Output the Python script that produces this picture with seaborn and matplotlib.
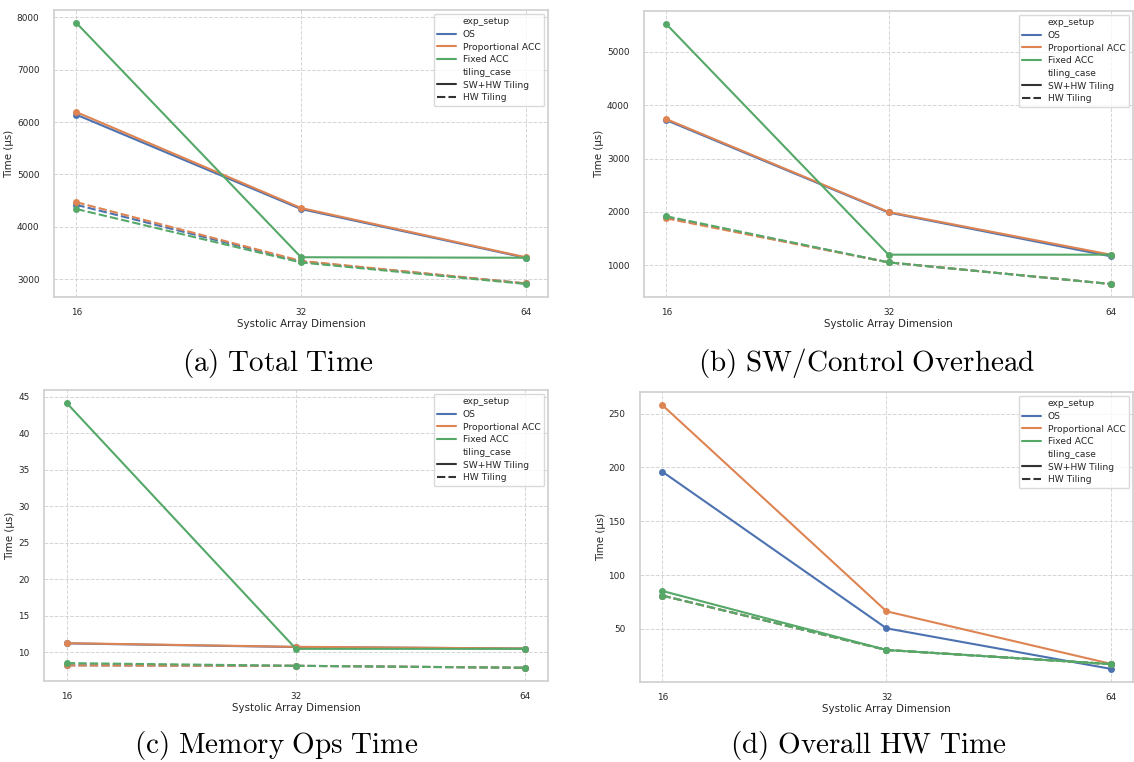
import matplotlib
matplotlib.use("Agg")
import matplotlib.pyplot as plt
import numpy as np
import pandas as pd
import seaborn as sns

# x values and series names
dims = [16, 32, 64]
setups = ["OS", "Proportional ACC", "Fixed ACC"]
tilings = ["SW+HW Tiling", "HW Tiling"]

# (a) Total Time
total_sw = {"OS": [6140, 4340, 3410], "Proportional ACC": [6190, 4360, 3420], "Fixed ACC": [7890, 3420, 3410]}
total_hw = {"OS": [4420, 3340, 2920], "Proportional ACC": [4470, 3350, 2920], "Fixed ACC": [4340, 3320, 2910]}

# (b) SW/Control Overhead
ctrl_sw = {"OS": [3720, 1990, 1170], "Proportional ACC": [3740, 2000, 1200], "Fixed ACC": [5520, 1200, 1200]}
ctrl_hw = {"OS": [1900, 1056, 651], "Proportional ACC": [1880, 1056, 651], "Fixed ACC": [1920, 1056, 651]}

# (c) Memory Ops Time
mem_sw = {"OS": [11.2, 10.7, 10.5], "Proportional ACC": [11.23, 10.73, 10.5], "Fixed ACC": [44.1, 10.45, 10.45]}
mem_hw = {"OS": [8.2, 8.13, 7.86], "Proportional ACC": [8.18, 8.13, 7.86], "Fixed ACC": [8.5, 8.13, 7.86]}

# (d) Overall HW Time
hw_sw = {"OS": [196, 50.6, 13], "Proportional ACC": [257.8, 66.4, 17.7], "Fixed ACC": [85.3, 30.5, 17.4]}
hw_hw = {"OS": [81, 30.5, 17.4], "Proportional ACC": [81, 30.5, 17.4], "Fixed ACC": [81, 30.5, 17.4]}

captions = ["(a) Total Time", "(b) SW/Control Overhead", "(c) Memory Ops Time", "(d) Overall HW Time"]


def make_df(sw, hw):
    rows = []
    for case, d in zip(tilings, [sw, hw]):
        for s in setups:
            for x, y in zip(dims, d[s]):
                rows.append({"dim": x, "time": y, "exp_setup": s, "tiling_case": case})
    return pd.DataFrame(rows)


sns.set_theme(style="whitegrid")
plt.rcParams["mathtext.fontset"] = "cm"

W, H = 1134, 762
fig = plt.figure(figsize=(W / 100, H / 100), dpi=100)

# axes boxes in pixels: left, right, top, bottom
boxes = [(54, 548, 10, 297), (644, 1133, 11, 297), (44, 548, 390, 681), (640, 1133, 392, 682)]
caption_pos = [(278, 363), (867, 363), (276, 745), (868, 745)]
data = [(total_sw, total_hw), (ctrl_sw, ctrl_hw), (mem_sw, mem_hw), (hw_sw, hw_hw)]

for (l, r, t, b), (sw, hw), cap, (cx, cy) in zip(boxes, data, captions, caption_pos):
    ax = fig.add_axes([l / W, 1 - b / H, (r - l) / W, (b - t) / H])
    df = make_df(sw, hw)
    sns.lineplot(data=df, x="dim", y="time", hue="exp_setup", style="tiling_case",
                 hue_order=setups, style_order=tilings, marker="o", markersize=5,
                 markeredgewidth=0, linewidth=1.5, ax=ax)
    ax.set_xscale("log", base=2)
    ax.set_xticks(dims)
    ax.set_xticklabels([str(d) for d in dims])
    ax.minorticks_off()
    ax.grid(True, linestyle="--", color="#d5d5d5", linewidth=0.7)
    for sp in ax.spines.values():
        sp.set_color("#d0d0d0")
    ax.tick_params(axis="y", labelsize=6.4, pad=4.5)
    ax.tick_params(axis="x", labelsize=6.4, pad=2)
    ax.set_xlabel("Systolic Array Dimension", fontsize=7.4, labelpad=1.5)
    ax.set_ylabel("Time (µs)", fontsize=7.4, labelpad=2)

    handles, labels = ax.get_legend_handles_labels()
    for h, lab in zip(handles, labels):
        h.set_marker("")
        if lab == "HW Tiling":
            h.set_dashes((4, 1.5))
    leg = ax.legend(handles, labels, loc="upper right", fontsize=6.6, frameon=True,
                    labelspacing=0.4, borderaxespad=0.4)
    leg.get_frame().set_edgecolor("#d0d0d0")

    txt = "$\\mathrm{" + cap.replace(" ", "\\ ") + "}$"
    fig.text(cx / W, 1 - cy / H, txt, ha="center", va="center", fontsize=21, color="black")

fig.savefig("out.png", dpi=100)
